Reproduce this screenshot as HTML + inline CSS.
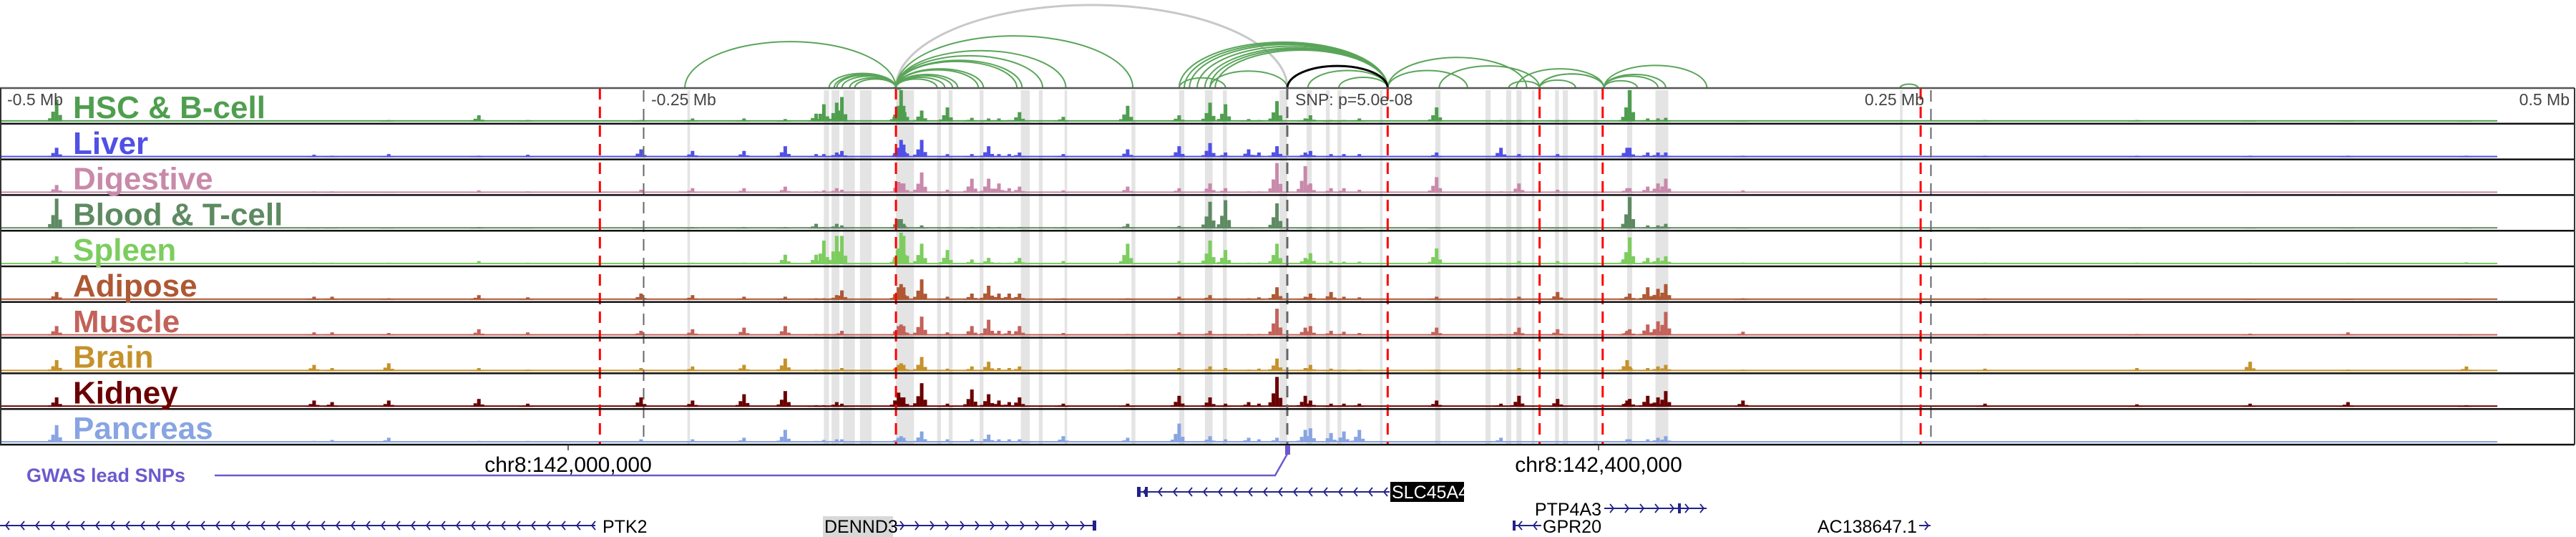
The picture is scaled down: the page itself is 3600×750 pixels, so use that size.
<!DOCTYPE html>
<html><head><meta charset="utf-8"><style>
html,body{margin:0;padding:0;background:#fff;width:3600px;height:750px;overflow:hidden}
svg{display:block}
text{font-family:"Liberation Sans","DejaVu Sans",sans-serif}
</style></head><body>
<svg id="fig" width="3600" height="750" viewBox="0 0 3600 750" xmlns="http://www.w3.org/2000/svg">
<g id="bands"></g>
<g id="signals"></g>
<g id="vlines"></g>
<g id="arcs"></g>
<g id="frames"></g>
<g id="labels"></g>
<g id="axis">
  <text x="10" y="147" font-size="23" fill="#444">-0.5 Mb</text>
  <text x="910" y="147" font-size="23" fill="#444">-0.25 Mb</text>
  <text x="1810" y="147" font-size="23" fill="#444">SNP: p=5.0e-08</text>
  <text x="2689" y="147" font-size="23" fill="#444" text-anchor="end">0.25 Mb</text>
  <text x="3591" y="147" font-size="23" fill="#444" text-anchor="end">0.5 Mb</text>
  <line x1="794" y1="621" x2="794" y2="629" stroke="#333" stroke-width="1.5"/>
  <line x1="2234" y1="621" x2="2234" y2="629" stroke="#333" stroke-width="1.5"/>
  <text x="794" y="659" font-size="30" text-anchor="middle" fill="#000">chr8:142,000,000</text>
  <text x="2234" y="659" font-size="30" text-anchor="middle" fill="#000">chr8:142,400,000</text>
</g>
<g id="gwas">
  <text x="37" y="673" font-size="27" font-weight="bold" fill="#6a5acd">GWAS lead SNPs</text>
  <polyline points="300,664 1782,664 1799,634" fill="none" stroke="#6a5acd" stroke-width="2.5"/>
  <rect x="1796" y="622" width="7" height="13" fill="#6a5acd"/>
</g>
<g id="genes"></g>
</svg>
<script>
// ---------- data ----------
var snpPos = 0; // kb, lead SNP
var trackNames = ["HSC & B-cell","Liver","Digestive","Blood & T-cell","Spleen","Adipose","Muscle","Brain","Kidney","Pancreas"];
var trackColors = ["#4f9e4f","#5050e6","#c889aa","#5e8a62","#7ccd5e","#ae5834","#c3625a","#c5922a","#6a0000","#88a4e2"];
// peak positions (kb relative to lead SNP)
var peakKb = [-478,-378,-371,-349,-314,-295,-251,-231,-211,-195,-183,-180,-175,-173,-151,-150,-149,-142,-132,-122.5,-116,-112,-108,-104,-87,-62,-42,-30,-24,-15,-11,-4,7,9,17,22,28,58,83,90,105,132,133,140,144,147,177,271,330,374,412,458];
var hHSC    = [.7,0,0,.05,.2,.05,.05,.1,.1,.08,.25,.55,.6,.78,.5,1,.5,.35,.45,.12,.1,.1,.05,.3,.15,.5,.2,.6,.55,.08,.05,.65,.1,.2,.05,.05,.1,.45,.05,.05,.05,.3,1,.1,.1,.12,.02,.05,.05,.03,.03,.03];
var hLiver  = [.3,.08,.05,.1,.05,.08,.25,.2,.2,.35,.1,.1,.15,.2,.3,.55,.4,.55,.1,.1,.35,.1,.1,.15,.1,.25,.35,.45,.15,.25,.15,.35,.15,.2,.1,.1,.1,.15,.3,.1,.1,.3,.3,.15,.15,.15,.05,.05,.05,.05,.05,.05];
var hDigest = [.25,.05,.05,.03,.08,.05,.1,.15,.15,.2,.05,.08,.15,.1,.35,.3,.3,.65,.1,.45,.45,.3,.15,.2,.08,.2,.15,.3,.15,.05,.05,.95,.85,.3,.15,.15,.1,.5,.05,.3,.1,.15,.15,.2,.3,.45,.08,.03,.03,.02,.03,.02];
var hBlood  = [.95,.03,.03,.03,.05,.03,.03,.05,.05,.05,.15,.05,.15,.1,.3,.3,.15,.1,.05,.05,.05,.05,.03,.05,.05,.15,.08,.85,.9,.03,.03,.8,.03,.05,.03,.03,.03,.05,.03,.03,.03,.25,1,.1,.1,.15,.02,.02,.02,.02,.02,.02];
var hSpleen = [.25,.05,.05,.05,.1,.05,.05,.05,.05,.3,.3,.75,.9,.9,.5,1,.9,.65,.45,.15,.2,.05,.05,.2,.1,.65,.1,.75,.45,.05,.05,.65,.2,.35,.1,.08,.08,.5,.05,.1,.1,.35,.85,.2,.2,.25,.05,.05,.05,.05,.05,.06];
var hAdipose= [.25,.1,.1,.05,.15,.08,.2,.15,.1,.1,.05,.05,.15,.3,.4,.5,.4,.65,.1,.2,.45,.2,.2,.2,.05,.05,.1,.15,.05,.05,.08,.4,.1,.2,.25,.1,.08,.1,.05,.1,.25,.1,.2,.4,.35,.5,.05,.05,.03,.02,.03,.03];
var hMuscle = [.3,.1,.1,.08,.2,.1,.15,.2,.25,.3,.05,.05,.05,.15,.3,.35,.3,.6,.1,.3,.5,.15,.15,.3,.08,.05,.1,.15,.05,.05,.05,.85,.25,.3,.15,.12,.08,.25,.05,.25,.2,.15,.2,.35,.45,.75,.12,.05,.05,.06,.1,.03];
var hBrain  = [.35,.2,.1,.25,.1,.05,.1,.15,.2,.4,.05,.05,.05,.1,.2,.25,.2,.45,.08,.15,.3,.1,.1,.15,.05,.05,.1,.15,.1,.05,.08,.4,.1,.2,.08,.05,.05,.05,.05,.1,.05,.35,.15,.1,.15,.2,.05,.08,.1,.3,.05,.15];
var hKidney = [.3,.2,.15,.2,.25,.1,.3,.2,.4,.5,.05,.05,.15,.1,.45,.3,.3,.75,.1,.55,.4,.2,.15,.3,.1,.1,.35,.3,.1,.15,.1,.95,.35,.2,.1,.1,.1,.2,.1,.35,.25,.2,.25,.35,.3,.5,.2,.1,.08,.1,.15,.05];
var hPancr  = [.55,.05,.08,.15,.05,.05,.1,.1,.15,.4,.05,.08,.1,.1,.15,.2,.15,.35,.1,.1,.25,.1,.1,.1,.2,.15,.6,.2,.1,.15,.1,.15,.4,.45,.3,.35,.4,.05,.15,.05,.05,.1,.1,.1,.15,.2,.03,.03,.03,.03,.03,.03];
var trackHeights = [hHSC,hLiver,hDigest,hBlood,hSpleen,hAdipose,hMuscle,hBrain,hKidney,hPancr];
// highlighted regions (kb)
var bandStart = [-233,-180,-177,-175,-176.5,-172.5,-166,-152,-136,-131.5,-119.5,-103.5,-96.5,-86.5,-60.5,-42,-32,-25,-3,7.5,15,19.5,36,57.5,77,85,89,95,104,107,119,132,143,238];
var bandEnd   = [-232,-178,-175.5,-174,-174.5,-168,-161.5,-145,-134.5,-130,-118,-100,-95,-85.5,-59,-40,-29,-23.5,0,9.5,16.5,21,37,59.5,79,87,91,96,105.5,109,120.5,134,148,239];
var redLinesKb  = [-267,-152,39,98,122.5,246];
var grayLinesKb = [-250,250];
// chromatin loops [startKb, endKb]
var loopStart = [-234,-153,-152,-150,-178,-176,-175,-173,-170,-168,-152,-152,-152,-152,-152,-152,-152,-152,-152,-152,-152,-42,-40,-38,-35,-32,-30,-28,-42,-30,0,8,20,39,39,59,86,89,98,98,98,123,123,123,123,238];
var loopEnd   = [-152,-152,-152,-152,-152,-152,-152,-152,-152,-152,-136,-133,-130,-128,-120,-118,-105,-103,-95,-86,-60,39,39,39,39,39,39,39,-24,0,39,39,39,70,93,98,98,123,112,123,123,136,144,147,163,245];
var loopGrayStart = [-152];
var loopGrayEnd = [0];
var loopBlackStart = [0];
var loopBlackEnd = [39];

// ---------- layout ----------
var NS = "http://www.w3.org/2000/svg";
var X0 = 1799, PXKB = 3.598;
function X(kb){ return X0 + kb * PXKB; }
var trackTop = 123, trackH = 49.8, plotH = 44;
function trackY(i){ return trackTop + i * trackH; }
function Y(i, v){ return trackY(i) + trackH - 3 - v * plotH; }
function mk(tag, parent, attrs){ var e = document.createElementNS(NS, tag); for (var k in attrs) e.setAttribute(k, attrs[k]); parent.appendChild(e); return e; }

// bands
var gB = document.getElementById("bands");
for (var b = 0; b < bandStart.length; b++){
  var r = mk("rect", gB, {x: X(bandStart[b]), y: trackTop + 3, width: Math.max(3, X(bandEnd[b]) - X(bandStart[b])), height: trackH * 10 - 3, fill: "#e4e4e4"});
  
  
}

// signals
var gS = document.getElementById("signals");
for (var i = 0; i < trackHeights.length; i++){
  var g = mk("g", gS, {});
  
  
  var base = Y(i, 0);
  var bl = mk("rect", g, {x: 0, y: base - 2, width: X(470), height: 2, fill: trackColors[i]});
  
  
  var hs = trackHeights[i];
  for (var j = 0; j < peakKb.length; j++){
    var cx = X(peakKb[j]);
    var h = hs[j];
    var yTop = Y(i, h);
    var p = mk("rect", g, {x: cx - 2.5, y: yTop, width: 5, height: base - yTop, fill: trackColors[i]});
    
    
    var ys = Y(i, h * 0.45);
    var s1 = mk("rect", g, {x: cx - 7.5, y: ys, width: 5, height: base - ys, fill: trackColors[i]});
    
    
    var ys2 = Y(i, h * 0.3);
    var s2 = mk("rect", g, {x: cx + 2.5, y: ys2, width: 5, height: base - ys2, fill: trackColors[i]});
    
    
    var ys3 = Y(i, h * 0.15);
    var s3 = mk("rect", g, {x: cx - 12, y: ys3, width: 4.5, height: base - ys3, fill: trackColors[i]});
    
    
  }
}

// vertical lines
var gV = document.getElementById("vlines");
for (var k = 0; k < grayLinesKb.length; k++){
  var l = mk("line", gV, {x1: X(grayLinesKb[k]), x2: X(grayLinesKb[k]), y1: 126, y2: 621, stroke: "#666", "stroke-width": 2, "stroke-dasharray": "16 10"});
  
  
}
var sl = mk("line", gV, {x1: X(snpPos), x2: X(snpPos), y1: 123, y2: 621, stroke: "#666", "stroke-width": 3, "stroke-dasharray": "16 10"});


for (var k2 = 0; k2 < redLinesKb.length; k2++){
  var rl = mk("line", gV, {x1: X(redLinesKb[k2]), x2: X(redLinesKb[k2]), y1: 123, y2: 621, stroke: "#ff0000", "stroke-width": 3, "stroke-dasharray": "16 10"});
  
  
}

// arcs
var gA = document.getElementById("arcs");
function arc(a, bK, color, w){
  var x1 = X(a), x2 = X(bK); var rx = (x2 - x1) / 2; var ry = Math.min(rx * 0.44, 116);
  var p = mk("path", gA, {d: "M" + x1 + "," + trackTop + " A" + rx + "," + ry + " 0 0 1 " + x2 + "," + trackTop, fill: "none", stroke: color, "stroke-width": w});
  return p;
}
for (var a1 = 0; a1 < loopGrayStart.length; a1++){
  var ga = arc(loopGrayStart[a1], loopGrayEnd[a1], "#c8c8c8", 3);
  
  
}
for (var a = 0; a < loopStart.length; a++){
  var pa = arc(loopStart[a], loopEnd[a], "#5aa55a", 2);
  
  
}
for (var a2 = 0; a2 < loopBlackStart.length; a2++){
  var ba = arc(loopBlackStart[a2], loopBlackEnd[a2], "#000", 3);
  
  
}

// frames
var gF = document.getElementById("frames");
for (var t = 0; t <= 10; t++){
  var fl = mk("line", gF, {x1: 0, x2: 3598, y1: trackY(t), y2: trackY(t), stroke: t === 0 ? "#555" : "#111", "stroke-width": 2.5});
  
  
}
var le = mk("line", gF, {x1: 1, x2: 1, y1: trackTop, y2: trackY(10), stroke: "#333", "stroke-width": 2});


var re = mk("line", gF, {x1: 3598, x2: 3598, y1: trackTop, y2: trackY(10), stroke: "#333", "stroke-width": 2});



// labels
var gL = document.getElementById("labels");
for (var n = 0; n < trackNames.length; n++){
  var tx = mk("text", gL, {x: 102, y: trackY(n) + 42, "font-size": 44, "font-weight": "bold", fill: trackColors[n]});
  
  
  tx.textContent = trackNames[n];
}

// genes
var gG = document.getElementById("genes");
function gene(name, x1, x2, y, dir){
  var g = mk("g", gG, {});
  
  
  mk("line", g, {x1: x1, x2: x2, y1: y, y2: y, stroke: "#22228a", "stroke-width": 2});
  var d = "";
  for (var x = x1 + 8; x < x2 - 4; x += 21){
    if (dir < 0) d += "M" + (x + 5) + "," + (y - 6) + " L" + x + "," + y + " L" + (x + 5) + "," + (y + 6) + " ";
    else d += "M" + x + "," + (y - 6) + " L" + (x + 5) + "," + y + " L" + x + "," + (y + 6) + " ";
  }
  mk("path", g, {d: d, fill: "none", stroke: "#22228a", "stroke-width": 1.8});
  return g;
}
gene("PTK2", 0, 832, 734, -1);
var t1 = mk("text", gG, {x: 842, y: 744, "font-size": 25, fill: "#000"}); t1.textContent = "PTK2";


var db = mk("rect", gG, {x: 1150, y: 721, width: 98, height: 29, fill: "#d8d8d8"});


var t2 = mk("text", gG, {x: 1152, y: 744, "font-size": 25, fill: "#000"}); t2.textContent = "DENND3";


gene("DENND3", 1250, 1532, 734, 1);
mk("rect", gG, {x: 1527, y: 727, width: 5, height: 14, fill: "#22228a"});
gene("SLC45A4", 1590, 1942, 687, -1);
mk("rect", gG, {x: 1589, y: 680, width: 5, height: 14, fill: "#22228a"});
mk("rect", gG, {x: 1600, y: 680, width: 4, height: 14, fill: "#22228a"});
var sb = mk("rect", gG, {x: 1943, y: 673, width: 103, height: 28, fill: "#000"});


var t3 = mk("text", gG, {x: 1945, y: 696, "font-size": 25, fill: "#fff"}); t3.textContent = "SLC45A4";


gene("PTP4A3", 2242, 2385, 710, 1);
mk("rect", gG, {x: 2345, y: 703, width: 4, height: 14, fill: "#22228a"});
var t4 = mk("text", gG, {x: 2238, y: 720, "font-size": 25, fill: "#000", "text-anchor": "end"}); t4.textContent = "PTP4A3";


gene("GPR20", 2114, 2154, 734, -1);
mk("rect", gG, {x: 2114, y: 727, width: 4, height: 14, fill: "#22228a"});
var t5 = mk("text", gG, {x: 2156, y: 744, "font-size": 25, fill: "#000"}); t5.textContent = "GPR20";


gene("AC138647", 2682, 2698, 734, 1);
var t6 = mk("text", gG, {x: 2679, y: 744, "font-size": 25, fill: "#000", "text-anchor": "end"}); t6.textContent = "AC138647.1";


</script>
</body></html>
